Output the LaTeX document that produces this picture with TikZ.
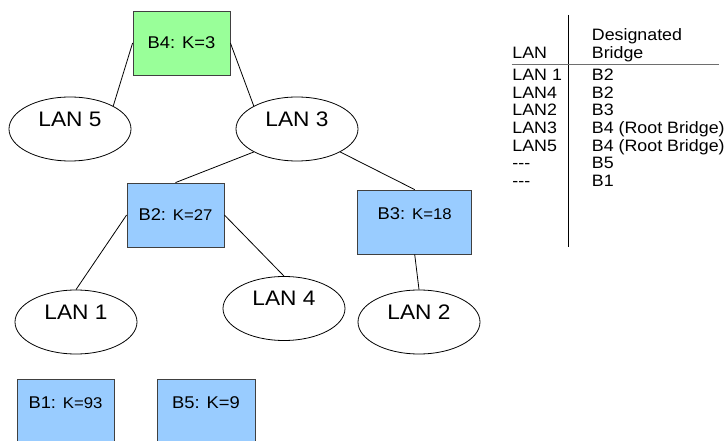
\documentclass[tikz,border=0pt]{standalone}
\usepackage{fontspec}
\setmainfont[FakeStretch=1.08]{Liberation Sans}
\usetikzlibrary{shapes.geometric}

\definecolor{rootgreen}{RGB}{153,255,153}
\definecolor{bridgeblue}{RGB}{153,204,255}
\definecolor{boxgray}{RGB}{64,64,64}
\definecolor{rulegray}{RGB}{110,110,110}

\newcommand{\lanfont}{\fontsize{21bp}{24bp}\selectfont}
\newcommand{\brfont}{\fontsize{17bp}{20bp}\selectfont}
\newcommand{\kfont}{\fontsize{15.5bp}{18bp}\selectfont}
\newcommand{\tabfont}{\fontsize{16.5bp}{18bp}\selectfont}

\begin{document}
\begin{tikzpicture}[thick,
    lan/.style={draw,ellipse,minimum width=122bp,minimum height=64bp,inner sep=0pt,text height=15bp,text depth=20bp,font=\lanfont},
    bridge/.style={draw=boxgray,fill=bridgeblue,rectangle,minimum width=97bp,minimum height=64bp,inner sep=0pt,font=\brfont},
    rootbridge/.style={bridge,fill=rootgreen},
    lifted/.style={text height=13bp,text depth=18bp},
    tab/.style={anchor=base west,inner sep=0pt,font=\tabfont}]
		%%
  \useasboundingbox (0bp,0bp) rectangle (727bp,441bp);
  \node (B4) at (181.5bp,398bp) [rootbridge] {B4: K=3};
  \node (LAN5) at (70bp,312bp) [lan] {LAN 5};
  \node (LAN3) at (297bp,312bp) [lan] {LAN 3};
  \node (B2) at (175.5bp,226bp) [bridge] {B2: {\kfont K=27}};
  \node (B3) at (414.7bp,219bp) [bridge,minimum width=114bp,lifted] {B3: {\kfont K=18}};
  \node (LAN1) at (76bp,119bp) [lan] {LAN 1};
  \node (LAN4) at (284bp,132.5bp) [lan] {LAN 4};
  \node (LAN2) at (419bp,119bp) [lan] {LAN 2};
  \node (B1) at (65.5bp,30bp) [bridge,lifted] {B1: {\kfont K=93}};
  \node (B5) at (206bp,30bp) [bridge,minimum width=98bp,lifted] {B5: K=9};
  \draw (B4.west) -- (LAN5.28);
  \draw (B4.east) -- (LAN3.152);
  \draw (LAN3.208) -- (B2.north);
  \draw (LAN3.-28) -- (B3.north);
  \draw (B2.west) -- (LAN1.north);
  \draw (B2.east) -- (LAN4.north);
  \draw (B3.south) -- (LAN2.north);
		%
  \coordinate (colTop) at (568bp,426bp);
  \coordinate (colBot) at (568bp,194bp);
  \coordinate (ruleL) at (511.7bp,377bp);
  \coordinate (ruleR) at (719bp,377bp);
  \draw [semithick] (colTop) -- (colBot);
  \draw [rulegray,thick] (ruleL) -- (ruleR);
  \node (hdLAN) at (512bp,382bp) [tab] {LAN};
  \node (hdDesig) at (591.5bp,400bp) [tab] {Designated};
  \node (hdBridge) at (591.5bp,382bp) [tab] {Bridge};
  \node (lanA) at (512bp,360.5bp) [tab] {LAN 1};
  \node (brA) at (591.5bp,360.5bp) [tab] {B2};
  \node (lanB) at (512bp,342.8bp) [tab] {LAN4};
  \node (brB) at (591.5bp,342.8bp) [tab] {B2};
  \node (lanC) at (512bp,325.1bp) [tab] {LAN2};
  \node (brC) at (591.5bp,325.1bp) [tab] {B3};
  \node (lanD) at (512bp,307.4bp) [tab] {LAN3};
  \node (brD) at (591.5bp,307.4bp) [tab] {B4 (Root Bridge)};
  \node (lanE) at (512bp,289.7bp) [tab] {LAN5};
  \node (brE) at (591.5bp,289.7bp) [tab] {B4 (Root Bridge)};
  \node (lanF) at (512bp,272bp) [tab] {-{}-{}-};
  \node (brF) at (591.5bp,272bp) [tab] {B5};
  \node (lanG) at (512bp,254.3bp) [tab] {-{}-{}-};
  \node (brG) at (591.5bp,254.3bp) [tab] {B1};
		%
\end{tikzpicture}
\end{document}
